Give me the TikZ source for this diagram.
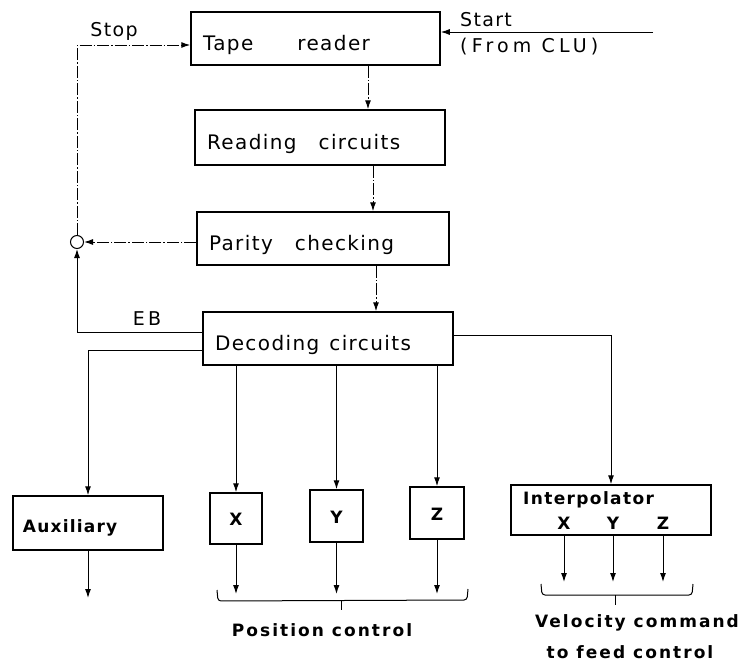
\documentclass[tikz,border=0pt]{standalone}
\usepackage{fontspec}
\setmainfont{DejaVu Sans}[LetterSpace=7]
\usetikzlibrary{arrows.meta}
\begin{document}
\begin{tikzpicture}[x=1pt,y=-1pt,
  box/.style={draw, line width=1.5pt, inner xsep=12pt, inner ysep=0pt, align=left, text height=25pt, text depth=2pt, font=\fontsize{20}{22}\selectfont},
  sbox/.style={draw, line width=1.5pt, inner sep=0pt, font=\bfseries\fontsize{17}{20}\selectfont},
  arr/.style={-{Latex[length=9pt,width=6pt]}, line width=1pt},
  dd/.style={dash pattern=on 12pt off 2pt on 1.5pt off 2pt},
  lbl/.style={inner sep=0pt, font=\fontsize{19}{22}\selectfont},
  blbl/.style={inner sep=0pt, font=\bfseries\fontsize{17}{20}\selectfont\addfontfeatures{LetterSpace=12}},
  plain/.style={line width=1pt}]
\useasboundingbox (0,0) rectangle (742,664);

% main chain
\node[box, text width=225pt, minimum height=53pt] (tape) at (315.5,38.5) {Tape\hspace{2.2em}reader};
\node[box, text width=226pt, minimum height=55pt] (read) at (320,137.5) {Reading\hspace{1.1em}circuits};
\node[box, text width=228pt, minimum height=53pt] (par) at (323,238.5) {Parity\hspace{1.1em}checking};
\node[box, text width=226pt, minimum height=53pt] (dec) at (328,338.5) {Decoding\hspace{0.5em}circuits};

% lower boxes
\node[sbox, minimum height=54pt, text width=130pt, align=left, inner xsep=10pt, text height=21pt, text depth=2pt] (aux) at (88,523) {Auxiliary};
\node[sbox, minimum width=52pt, minimum height=51pt, text height=14pt, text depth=0pt] (bx) at (236,518.5) {X};
\node[sbox, minimum width=53pt, minimum height=52pt, text height=14pt, text depth=0pt] (by) at (336.5,516) {Y};
\node[sbox, minimum width=54pt, minimum height=52pt, text height=14pt, text depth=0pt] (bz) at (437,513) {Z};
\node[sbox, minimum width=200pt, minimum height=50pt] (interp) at (611,510) {};
\node[blbl, anchor=west, font=\bfseries\fontsize{17}{20}\selectfont\addfontfeatures{LetterSpace=8}] (itxt) at (523,500) {Interpolator};
\node[blbl] (ix) at (564,523) {X};
\node[blbl] (iy) at (613,523) {Y};
\node[blbl] (iz) at (663,523) {Z};

% junction
\node[draw, circle, line width=1pt, minimum size=13pt, inner sep=0pt] (junc) at (77,242) {};

% labels
\node[lbl] (stoplbl) at (114,31) {Stop};
\node[lbl, anchor=west] (startlbl) at (460,20) {Start};
\node[lbl, anchor=west, font=\fontsize{19}{22}\selectfont\addfontfeatures{LetterSpace=22}] (fromlbl) at (460,47) {(From CLU)};
\node[lbl, font=\fontsize{19}{22}\selectfont\addfontfeatures{LetterSpace=18}] (eblbl) at (147,319) {EB};
\node[blbl] (pos) at (322,630) {Position control};
\node[blbl] (vel1) at (637,623) {Velocity command};
\node[blbl] (vel2) at (630,652) {to feed control};

% helper coordinates
\coordinate (start) at (653,32);
\coordinate (stopy) at (0,45);
\coordinate (c1) at (368,0);
\coordinate (c2) at (373,0);
\coordinate (c3) at (376,0);
\coordinate (eby) at (0,332);
\coordinate (auxy) at (0,350);
\coordinate (riy) at (0,335);
\coordinate (aout) at (88,598);
\coordinate (pend) at (0,594);
\coordinate (vend) at (0,582);

% connectors
\draw[arr,dd] (tape.south -| c1) -- (read.north -| c1);
\draw[arr,dd] (read.south -| c2) -- (par.north -| c2);
\draw[arr,dd] (par.south -| c3) -- (dec.north -| c3);
\draw[arr] (start) -- (tape.east |- start);
\draw[arr,dd] (junc.north) |- (tape.west |- stopy);
\draw[arr,dd] (par.west |- junc) -- (junc.east);
\draw[arr] (dec.west |- eby) -| (junc.south);
\draw[arr] (dec.west |- auxy) -| (aux.north);
\draw[arr] (dec.south -| bx.north) -- (bx.north);
\draw[arr] (dec.south -| by.north) -- (by.north);
\draw[arr] (dec.south -| bz.north) -- (bz.north);
\draw[arr] (dec.east |- riy) -| (interp.north);
\draw[arr] (aux.south) -- (aout);
\draw[arr] (bx.south) -- (bx.south |- pend);
\draw[arr] (by.south) -- (by.south |- pend);
\draw[arr] (bz.south) -- (bz.south |- pend);
\draw[arr] (ix.south |- interp.south) -- (ix.south |- vend);
\draw[arr] (iy.south |- interp.south) -- (iy.south |- vend);
\draw[arr] (iz.south |- interp.south) -- (iz.south |- vend);

% braces
\draw[plain, rounded corners=3pt] (217,590) -- (218,601) -- (467,600) -- (468,589);
\draw[plain] (341,600.5) -- (341,610);
\draw[plain, rounded corners=3pt] (541,584) -- (542,595) -- (692,595) -- (693,584);
\draw[plain] (615,595) -- (615,605);
\end{tikzpicture}
\end{document}
